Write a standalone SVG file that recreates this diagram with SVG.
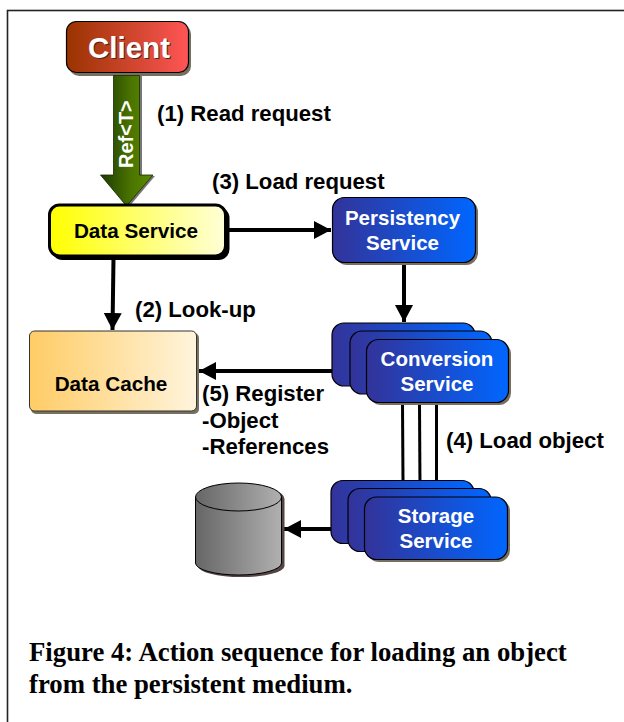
<svg xmlns="http://www.w3.org/2000/svg" width="624" height="722" viewBox="0 0 624 722">
<defs>
<linearGradient id="gr"><stop offset="0" stop-color="#993300"/><stop offset="1" stop-color="#ff5555"/></linearGradient>
<linearGradient id="gg"><stop offset="0" stop-color="#1c3a00"/><stop offset=".6" stop-color="#4c7600"/><stop offset="1" stop-color="#5a8a00"/></linearGradient>
<linearGradient id="gy"><stop offset="0" stop-color="#ffff00"/><stop offset="1" stop-color="#ffffd8"/></linearGradient>
<linearGradient id="gb"><stop offset="0" stop-color="#333399"/><stop offset="1" stop-color="#0066ff"/></linearGradient>
<linearGradient id="go"><stop offset="0" stop-color="#ffcc66"/><stop offset="1" stop-color="#fff4dc"/></linearGradient>
<linearGradient id="gc"><stop offset="0" stop-color="#666666"/><stop offset="1" stop-color="#b0b0b0"/></linearGradient>
<marker id="ah" markerUnits="userSpaceOnUse" markerWidth="18" markerHeight="18" refX="17" refY="9" orient="auto"><path d="M0 0L17 9L0 18Z" fill="#000"/></marker>
</defs>
<style>
text{font-family:"Liberation Sans",Arial,sans-serif;font-weight:bold}
.lb{font-size:22.200px;fill:#000}
.w{font-size:20.500px;fill:#fff;text-anchor:middle}
.blue{fill:url(#gb);stroke:#000;stroke-width:1.2}
.sh{fill:#777060}
.c{fill:none;stroke:#000;stroke-width:4}
.t{fill:none;stroke:#000;stroke-width:3}
.ca{font-family:"Liberation Serif","Times New Roman",serif;font-size:26.750px;fill:#000}
</style>
<rect x="7.5" y="10.5" width="640" height="740" fill="#fff" stroke="#222" stroke-width="1.6"/>
<g id="connectors">
<path class="c" d="M228 230H331" marker-end="url(#ah)"/>
<path class="c" d="M113.500 258L112.500 330" marker-end="url(#ah)"/>
<path class="c" d="M404 261V322" marker-end="url(#ah)"/>
<path class="c" d="M332 371H199" marker-end="url(#ah)"/>
<path class="t" d="M402.500 404L403 481"/>
<path class="t" d="M419.500 404L420 489"/>
<path class="t" d="M436.500 404L436.500 497"/>
<path class="c" d="M331 529H284" marker-end="url(#ah)"/>
</g>
<g id="client">
<rect x="69" y="24" width="122" height="52" rx="10" class="sh"/>
<rect x="66.500" y="21.500" width="122" height="51" rx="10" fill="url(#gr)" stroke="#000" stroke-width="1.200"/>
<text x="129" y="58" text-anchor="middle" font-size="29.500" fill="#fff" style="text-shadow:1px 1px 0 #4a2a20">Client</text>
</g>
<g id="ref-arrow">
<path d="M117 76H142V176H155L128 208L102 176H117Z" fill="#777"/>
<path d="M113.500 75.500H139.500V175H153L126.500 206L100.500 175H113.500Z" fill="url(#gg)" stroke="#1a2a00" stroke-width=".8"/>
<text transform="translate(133 168) rotate(-90)" font-size="20" fill="#fff">Ref&lt;T&gt;</text>
</g>
<g id="data-service">
<rect x="51.500" y="207" width="178" height="53" rx="11" fill="#000"/>
<rect x="49.500" y="205" width="176" height="51" rx="10" fill="url(#gy)" stroke="#000" stroke-width="3"/>
<text x="136" y="238" text-anchor="middle" font-size="20.700" fill="#000">Data Service</text>
</g>
<g id="persistency-service">
<rect x="335" y="200" width="143" height="65" rx="12" class="sh"/>
<rect x="332.500" y="197.500" width="143" height="65" rx="12" class="blue"/>
<text x="402.500" y="225" class="w">Persistency</text>
<text x="402.500" y="250" class="w">Service</text>
</g>
<g id="data-cache">
<rect x="31" y="333" width="168" height="81" rx="5" class="sh"/>
<rect x="29.500" y="331" width="167" height="80" rx="5" fill="url(#go)" stroke="#333" stroke-width="1"/>
<text x="111" y="391" text-anchor="middle" font-size="20.700" fill="#000">Data Cache</text>
</g>
<g id="conversion-service">
<rect x="332" y="323" width="143" height="63" rx="12" class="blue"/>
<rect x="350" y="331" width="142" height="63" rx="12" class="blue"/>
<rect x="369" y="342" width="142" height="63" rx="12" class="sh"/>
<rect x="366.500" y="339.500" width="142" height="63" rx="12" class="blue"/>
<text x="437" y="366" class="w">Conversion</text>
<text x="437" y="391" class="w">Service</text>
</g>
<g id="storage-service">
<rect x="331" y="480.500" width="143" height="63" rx="12" class="blue"/>
<rect x="348" y="488.500" width="143" height="63" rx="12" class="blue"/>
<rect x="367" y="499" width="143" height="63" rx="12" class="sh"/>
<rect x="364.500" y="497" width="143" height="62.500" rx="12" class="blue"/>
<text x="436" y="523" class="w">Storage</text>
<text x="436" y="548" class="w">Service</text>
</g>
<g id="database">
<path d="M198 499A43 14 0 0 1 284.500 499V566A43 11 0 0 1 198 566Z" fill="#544"/>
<path d="M195.500 497A43 14 0 0 1 281.500 497V563A43 12 0 0 1 195.500 563Z" fill="url(#gc)" stroke="#000" stroke-width="1"/>
<path d="M195.500 497A43 14 0 0 0 281.500 497" fill="none" stroke="#000" stroke-width="1"/>
</g>
<g id="labels">
<text x="157" y="121" class="lb">(1) Read request</text>
<text x="212" y="189" class="lb">(3) Load request</text>
<text x="135" y="317" class="lb">(2) Look-up</text>
<text x="202" y="401" class="lb">(5) Register</text>
<text x="202" y="428" class="lb">-Object</text>
<text x="202" y="454" class="lb">-References</text>
<text x="446" y="448" class="lb">(4) Load object</text>
</g>
<text x="29" y="661" class="ca">Figure 4: Action sequence for loading an object</text>
<text x="29" y="693" class="ca">from the persistent medium.</text>
</svg>
